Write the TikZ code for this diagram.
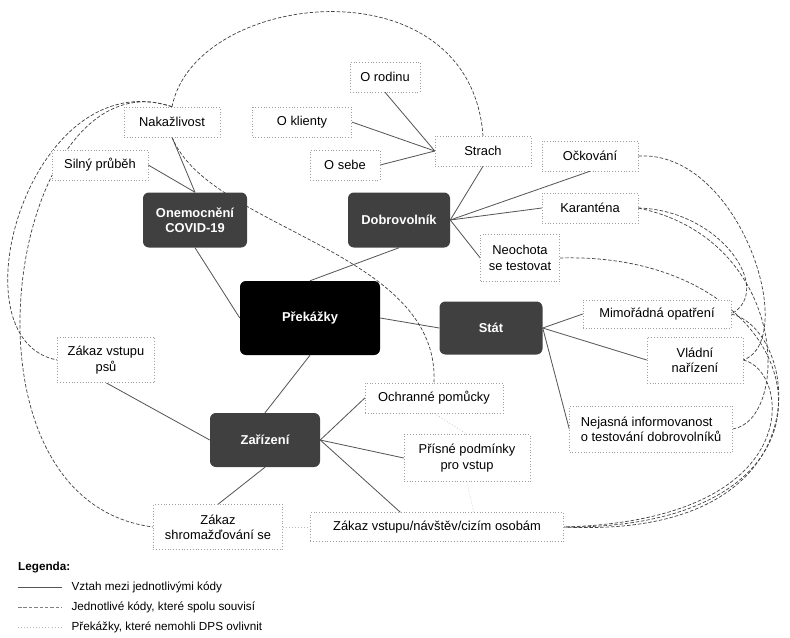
\documentclass[tikz,border=0pt]{standalone}
\usepackage{fontspec}
\setmainfont{Liberation Sans}
\usetikzlibrary{positioning, calc, backgrounds}
\definecolor{tmava}{HTML}{404040}
\definecolor{cara}{HTML}{555555}

\begin{document}
\begin{tikzpicture}[
  x=0.03cm, y=-0.03cm,
  font=\fontsize{11}{13}\selectfont,
  rozmer/.style 2 args={minimum width=#1, minimum height=#2},
  kod/.style={draw=gray!75, dotted, fill=white, align=center, inner sep=2pt},
  hlavni/.style={fill=tmava, rounded corners=5pt, text=white, align=center,
    font=\fontsize{11}{13}\selectfont\bfseries},
  vztah/.style={draw=cara, line width=0.7pt},
  souvis/.style={draw=black!75, dash pattern=on 3pt off 1.6pt, line width=0.6pt},
  mimo/.style={draw=gray!55, dotted, line width=0.6pt}
]
  \useasboundingbox (0,0) rectangle (790,637);

  % Main nodes
  \node[hlavni, fill=black, rozmer={4.2cm}{2.22cm}] (prekazky) at (310,318) {Překážky};
  \node[hlavni, rozmer={3.12cm}{1.65cm}] (covid) at (195,220) {Onemocnění\\COVID-19};
  \node[hlavni, rozmer={3.06cm}{1.65cm}] (dobro) at (399,220) {Dobrovolník};
  \node[hlavni, rozmer={3.09cm}{1.59cm}] (stat) at (491,328) {Stát};
  \node[hlavni, rozmer={3.3cm}{1.62cm}] (zarizeni) at (265,440) {Zařízení};

  % Codes
  \node[kod, rozmer={2.88cm}{0.9cm}] (naka) at (172,122) {Nakažlivost};
  \node[kod, rozmer={2.88cm}{0.9cm}] (silny) at (100,165) {Silný průběh};
  \node[kod, rozmer={2.1cm}{0.9cm}] (rodinu) at (385,77) {O rodinu};
  \node[kod, rozmer={2.97cm}{0.9cm}] (klienty) at (302,122) {O klienty};
  \node[kod, rozmer={2.1cm}{0.9cm}] (sebe) at (345,165) {O sebe};
  \node[kod, rozmer={2.88cm}{0.9cm}] (strach) at (483,151) {Strach};
  \node[kod, rozmer={2.88cm}{0.9cm}] (ockovani) at (590,156) {Očkování};
  \node[kod, rozmer={2.88cm}{0.9cm}] (karantena) at (590,208) {Karanténa};
  \node[kod, rozmer={2.37cm}{1.41cm}] (neochota) at (520,258) {Neochota\\se testovat};
  \node[kod, rozmer={4.44cm}{0.84cm}] (mimoradna) at (657,314) {Mimořádná opatření};
  \node[kod, rozmer={2.88cm}{1.38cm}] (vladni) at (695,360) {Vládní\\nařízení};
  \node[kod, align=left, rozmer={4.89cm}{1.38cm}] (nejasna) at (651,429) {Nejasná informovanost\\o testování dobrovolníků};
  \node[kod, rozmer={2.91cm}{1.35cm}] (psu) at (106,360) {Zákaz vstupu\\psů};
  \node[kod, rozmer={4.14cm}{0.9cm}] (ochranne) at (434,398) {Ochranné pomůcky};
  \node[kod, rozmer={3.78cm}{1.41cm}] (prisne) at (467,458) {Přísné podmínky\\pro vstup};
  \node[kod, rozmer={3.87cm}{1.35cm}] (shrom) at (218,527) {Zákaz\\shromažďování se};
  \node[kod, rozmer={7.59cm}{0.87cm}] (navstev) at (437,527) {Zákaz vstupu/návštěv/cizím osobám};

  \begin{scope}[on background layer]
    % Relations
    \draw[vztah] (covid.north) -- (naka.south);
    \draw[vztah] (covid.north) -- (silny.east);
    \draw[vztah] (covid.south) -- (prekazky.west);
    \draw[vztah] (dobro.south) -- (prekazky.north);
    \draw[vztah] (dobro.east) -- (strach.south);
    \draw[vztah] (dobro.east) -- (ockovani.south);
    \draw[vztah] (dobro.east) -- (karantena.west);
    \draw[vztah] (dobro.east) -- (neochota.west);
    \draw[vztah] (strach.west) -- (rodinu.south);
    \draw[vztah] (strach.west) -- (klienty.east);
    \draw[vztah] (strach.west) -- (sebe.east);
    \draw[vztah] (prekazky.east) -- (stat.west);
    \draw[vztah] (stat.east) -- (mimoradna.west);
    \draw[vztah] (stat.east) -- (vladni.west);
    \draw[vztah] (stat.east) -- (nejasna.west);
    \draw[vztah] (prekazky.south) -- (zarizeni.north);
    \draw[vztah] (zarizeni.west) -- (psu.south);
    \draw[vztah] (zarizeni.east) -- (ochranne.west);
    \draw[vztah] (zarizeni.east) -- (prisne.west);
    \draw[vztah] (zarizeni.east) -- ([xshift=-1.1cm]navstev.north);
    \draw[vztah] (zarizeni.south) -- (shrom.north);

    % Outside influence
    \draw[mimo] (ochranne.south) -- (prisne.north);
    \draw[mimo] (prisne.south) -- ([xshift=1.1cm]navstev.north);
    \draw[mimo] (shrom.east) -- (navstev.west);

    % Codes that belong together
    \draw[souvis] (naka.north) .. controls (195,-10) and (470,-40) .. (strach.north);
    \draw[souvis] (naka.north) .. controls (30,60) and (-50,340) .. (psu.west);
    \draw[souvis] (naka.north) .. controls (10,50) and (-60,500) .. (shrom.west);
    \draw[souvis] (naka.south) .. controls (210,230) and (440,250) .. (ochranne.north);
    \draw[souvis] (ockovani.east) .. controls (740,150) and (800,340) .. (vladni.east);
    \draw[souvis] (karantena.east) .. controls (720,210) and (775,290) .. (mimoradna.east);
    \draw[souvis] (neochota.east) .. controls (820,250) and (880,530) .. (navstev.east);
    \draw[souvis] (mimoradna.east) .. controls (800,330) and (830,540) .. (navstev.east);
    \draw[souvis] (vladni.east) .. controls (790,370) and (810,520) .. (navstev.east);
    \draw[souvis] (nejasna.east) .. controls (790,420) and (790,240) .. (karantena.east);
  \end{scope}

  % Legend
  \node[anchor=west, inner sep=0pt, font=\fontsize{10}{12}\selectfont\bfseries] (legenda) at (18,567) {Legenda:};
  \coordinate (v1) at (18,587);
  \coordinate (v2) at (62,587);
  \coordinate (s1) at (18,607);
  \coordinate (s2) at (62,607);
  \coordinate (m1) at (18,627);
  \coordinate (m2) at (62,627);
  \draw[vztah] (v1) -- (v2);
  \draw[souvis, draw=gray] (s1) -- (s2);
  \draw[mimo] (m1) -- (m2);
  \node[anchor=west, inner sep=0pt, font=\fontsize{10}{12}\selectfont, right=8pt of v2] {Vztah mezi jednotlivými kódy};
  \node[anchor=west, inner sep=0pt, font=\fontsize{10}{12}\selectfont, right=8pt of s2] {Jednotlivé kódy, které spolu souvisí};
  \node[anchor=west, inner sep=0pt, font=\fontsize{10}{12}\selectfont, right=8pt of m2] {Překážky, které nemohli DPS ovlivnit};
\end{tikzpicture}
\end{document}
